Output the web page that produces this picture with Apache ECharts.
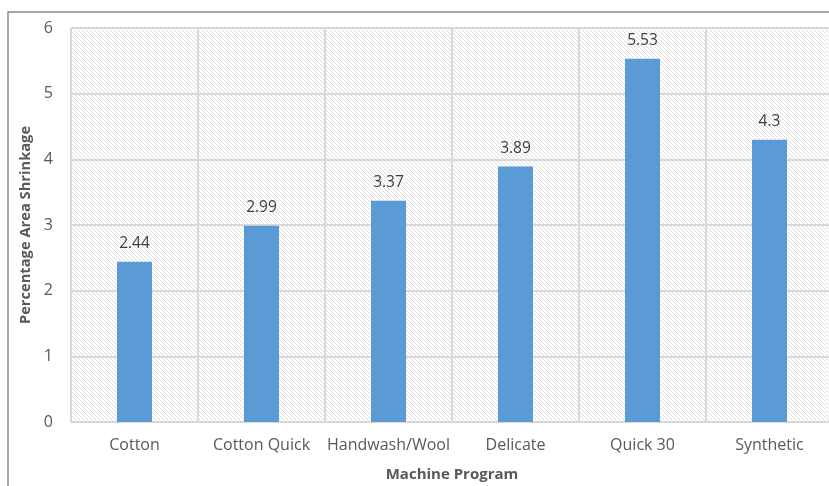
<!DOCTYPE html>
<html>
<head>
<meta charset="utf-8">
<script src="https://cdn.jsdelivr.net/npm/echarts@6/dist/echarts.min.js"></script>
<style>
  html, body { margin: 0; padding: 0; background: #fff; }
  #chart { width: 829px; height: 486px; }
</style>
</head>
<body>
<div id="chart"></div>
<script>
// Machine programs and the measured area shrinkage (%)
const programs = ['Cotton', 'Cotton Quick', 'Handwash/Wool', 'Delicate', 'Quick 30', 'Synthetic'];
const shrinkage = [2.44, 2.99, 3.37, 3.89, 5.53, 4.3];
const yTicks = [0, 1, 2, 3, 4, 5, 6];

// Diagonal hatch used as the plot-area fill
function hatchPattern() {
  const c = document.createElement('canvas');
  const s = 4;
  c.width = s; c.height = s;
  const g = c.getContext('2d');
  g.fillStyle = '#ffffff';
  g.fillRect(0, 0, s, s);
  g.strokeStyle = '#dedede';
  g.lineWidth = 1;
  g.beginPath();
  g.moveTo(-1, -1); g.lineTo(s + 1, s + 1);
  g.moveTo(-1, s - 1); g.lineTo(1, s + 1);
  g.moveTo(s - 1, -1); g.lineTo(s + 1, 1);
  g.stroke();
  return c;
}

const font = '"Open Sans", Lato, sans-serif';
const chart = echarts.init(document.getElementById('chart'), null, { renderer: 'canvas' });
chart.setOption({
  backgroundColor: '#ffffff',
  animation: false,
  grid: {
    left: 71, top: 28, width: 762, height: 394,
    outerBoundsMode: 'none',
    containLabel: false,
    show: true,
    borderWidth: 0,
    backgroundColor: { image: hatchPattern(), repeat: 'repeat' }
  },
  graphic: [{
    type: 'rect',
    z: 100,
    shape: { x: 8, y: 12, width: 900, height: 600 },
    style: { fill: 'none', stroke: '#8a8a8a', lineWidth: 1.5 }
  }],
  xAxis: {
    type: 'category',
    data: programs,
    name: 'Machine Program',
    nameLocation: 'middle',
    nameGap: 45,
    nameTextStyle: { fontFamily: font, fontWeight: 'bold', fontSize: 15, color: '#595959' },
    axisLine: { show: true, lineStyle: { color: '#d9d9d9', width: 2 } },
    axisTick: { show: false },
    axisLabel: { interval: 0, fontFamily: font, fontSize: 16, color: '#595959', margin: 15 },
    splitLine: { show: true, interval: 0, lineStyle: { color: '#d9d9d9', width: 2 } }
  },
  yAxis: {
    type: 'value',
    min: yTicks[0],
    max: yTicks[yTicks.length - 1],
    interval: 1,
    name: 'Percentage Area Shrinkage',
    nameLocation: 'middle',
    nameGap: 34,
    nameTextStyle: { fontFamily: font, fontWeight: 'bold', fontSize: 14.7, color: '#595959' },
    axisLine: { show: false },
    axisTick: { show: false },
    axisLabel: { fontFamily: font, fontSize: 16, color: '#595959', margin: 18 },
    splitLine: { show: true, lineStyle: { color: '#d9d9d9', width: 2 } }
  },
  series: [{
    type: 'bar',
    data: shrinkage,
    barWidth: 35,
    itemStyle: { color: '#5b9bd5' },
    label: {
      show: true,
      position: 'top',
      distance: 10,
      fontFamily: font,
      fontSize: 15.5,
      color: '#404040'
    }
  }]
});
</script>
</body>
</html>
